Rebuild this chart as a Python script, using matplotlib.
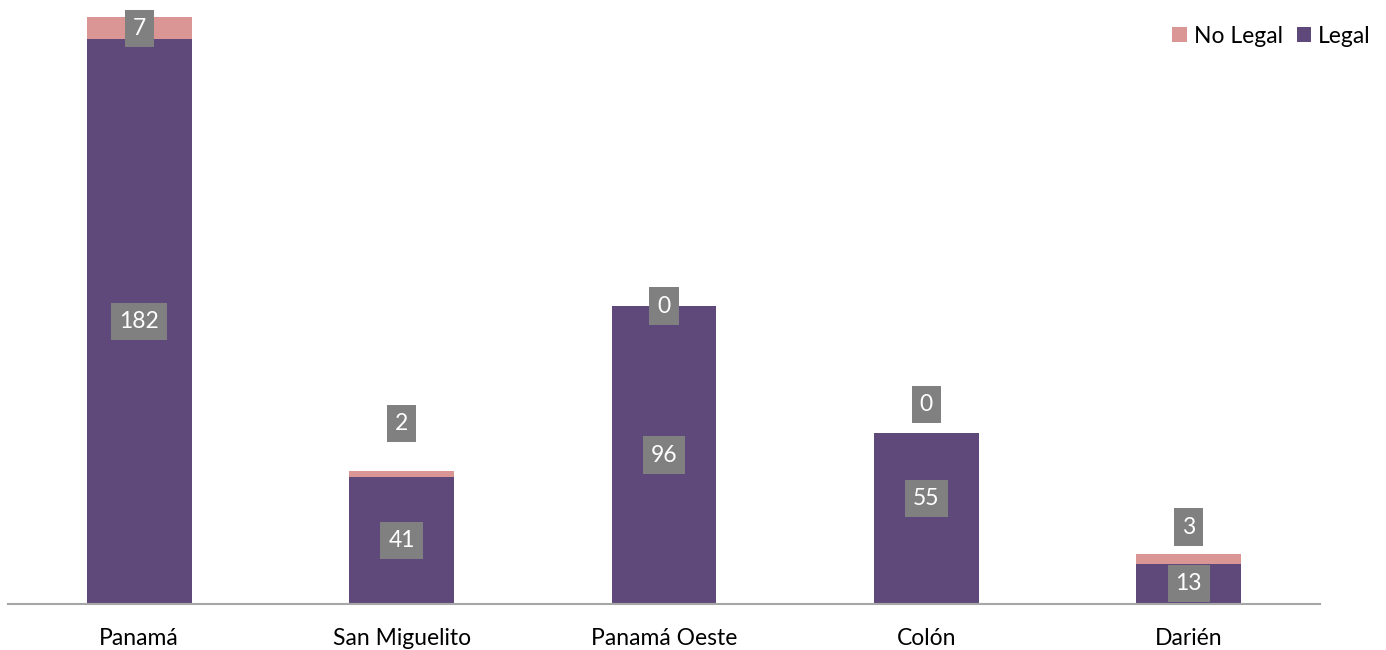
import matplotlib as mpl
mpl.use('Agg')
import matplotlib.pyplot as plt
import numpy as np

plt.rcParams['font.family'] = ['Lato', 'DejaVu Sans']

# data
regions = ['Panamá', 'San Miguelito', 'Panamá Oeste', 'Colón', 'Darién']
legal = [182, 41, 96, 55, 13]
no_legal = [7, 2, 0, 0, 3]

# manual label nudges (data units), like the hand-moved labels of the original
legal_offsets = [0, 0, 0, 6.5, 0]
nl_offsets = [3.5, 17.3, 0, 9.4, 11.8]

purple = '#5F497A'
pink = '#D99694'
box = dict(boxstyle='square,pad=0.35', fc='#808080', ec='none')

fig = plt.figure(figsize=(13.86, 6.5), dpi=100)
ax = fig.add_axes([8 / 1386, 46 / 650, 1312 / 1386, 604 / 650])

x = np.arange(len(regions))
width = 0.4

ax.bar(x, legal, width, color=purple, label='Legal')
ax.bar(x, no_legal, width, bottom=legal, color=pink, label='No Legal')

for i in range(len(regions)):
    ax.text(x[i], legal[i] / 2 + legal_offsets[i], str(legal[i]), ha='center', va='center',
            color='white', fontsize=16.5, bbox=box)
    ax.text(x[i], legal[i] + nl_offsets[i], str(no_legal[i]), ha='center', va='center',
            color='white', fontsize=16.5, bbox=box)

ax.set_xlim(-0.5, len(regions) - 0.5)
ax.set_ylim(0, 604 / 3.104)

# axes styling
for s in ['top', 'right', 'left']:
    ax.spines[s].set_visible(False)
ax.spines['bottom'].set_color('#A6A6A6')
ax.spines['bottom'].set_linewidth(1.5)
ax.set_yticks([])
ax.set_xticks(x)
ax.set_xticklabels(regions, fontsize=16.5)
ax.tick_params(axis='x', length=0, pad=17)

# legend, No Legal first
h, l = ax.get_legend_handles_labels()
fig.legend(h[::-1], l[::-1], loc='upper right', bbox_to_anchor=(1.004, 0.992),
           ncol=2, frameon=False, fontsize=16.5, handlelength=0.65, handleheight=0.65,
           handletextpad=0.3, columnspacing=0.6)

fig.savefig('out.png', dpi=100)
